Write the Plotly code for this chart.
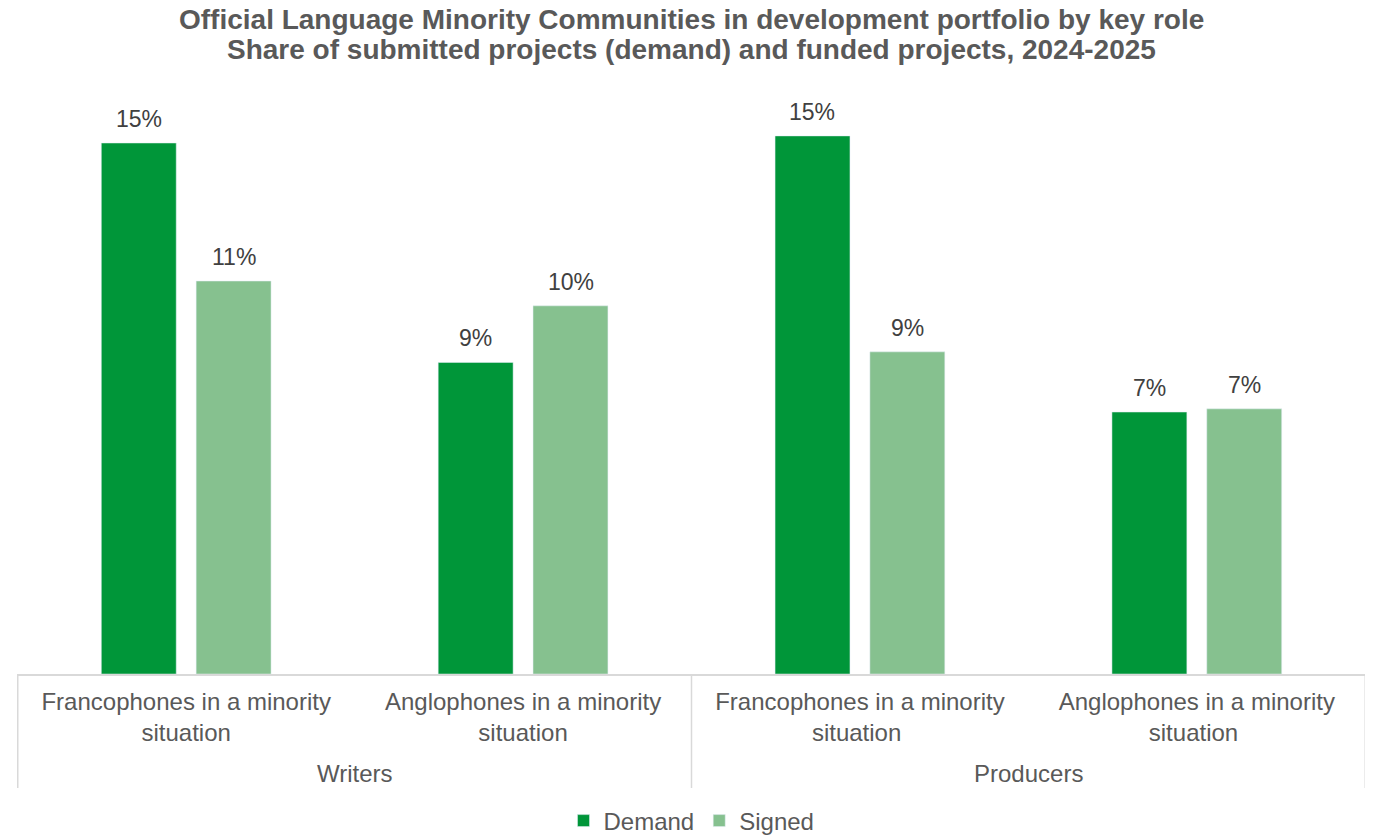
import plotly.graph_objects as go

categories = ["Francophones in a minority<br>situation", "Anglophones in a minority<br>situation",
              "Francophones in a minority<br>situation ", "Anglophones in a minority<br>situation "]
groups = ["Writers", "Producers"]
demand = [15.0, 8.8, 15.2, 7.4]
signed = [11.1, 10.4, 9.1, 7.49]
title_lines = ["Official Language Minority Communities in development portfolio by key role",
               "Share of submitted projects (demand) and funded projects, 2024-2025"]

DARK = "#009639"
LIGHT = "#86c18f"
TEXT = "#595959"
LABEL = "#404040"
FONT = "Liberation Sans, Arial, sans-serif"

# page has an 8px body margin, so figure is sized to fit inside the window
W, H = 1365, 827
ML, MR, MT, MB = 9, 7, 87, 161
BARGAP, GROUPGAP = 0.437, 0.21
plot_w = W - ML - MR
plot_h = H - MT - MB
ymax = 15.0 * plot_h / 531

fig = go.Figure()
fig.add_trace(go.Bar(name="Demand", x=categories, y=demand, marker_color=DARK))
fig.add_trace(go.Bar(name="Signed", x=categories, y=signed, marker_color=LIGHT))

annotations = []
slot_px = (1 - BARGAP) * (plot_w / len(categories)) / 2
for series, sign in [(demand, -1), (signed, 1)]:
    for cat, v in zip(categories, series):
        annotations.append(dict(x=cat, y=v, xref="x", yref="y", text=f"{v:.0f}%",
                                showarrow=False, yanchor="middle", xshift=sign * slot_px / 2,
                                yshift=24, font=dict(size=23, color=LABEL, family=FONT)))

shapes = []
line_bottom = -(780 - (H - MB)) / plot_h
for xv in [-0.5, 1.5, 3.5]:
    shapes.append(dict(type="line", xref="x", yref="paper", x0=xv, x1=xv, y0=0, y1=line_bottom,
                       line=dict(color="#d9d9d9", width=1.5)))

for i, g in enumerate(groups):
    annotations.append(dict(x=0.5 + 2 * i, y=-(765 - (H - MB)) / plot_h, xref="x", yref="paper",
                            text=g, showarrow=False, yanchor="middle",
                            font=dict(size=24, color=TEXT, family=FONT)))

for j, (t, ypx) in enumerate(zip(title_lines, [12, 42])):
    annotations.append(dict(x=0.5, xref="paper", y=1 + (MT - ypx) / plot_h, yref="paper",
                            text=f"<b>{t}</b>", showarrow=False, yanchor="middle",
                            font=dict(size=28, color=TEXT, family=FONT)))

fig.update_layout(
    width=W, height=H,
    margin=dict(l=ML, r=MR, t=MT, b=MB, autoexpand=False),
    paper_bgcolor="white", plot_bgcolor="white",
    barmode="group", bargap=BARGAP, bargroupgap=GROUPGAP,
    xaxis=dict(type="category", showline=True, linecolor="#d9d9d9", linewidth=1.5,
               tickfont=dict(size=24, color=TEXT, family=FONT), ticks="",
               ticklabelstandoff=5, showgrid=False),
    yaxis=dict(range=[0, ymax], visible=False, showgrid=False),
    legend=dict(orientation="h", x=0.5, xanchor="center", y=-(813 - (H - MB)) / plot_h,
                yanchor="middle", font=dict(size=24, color=TEXT, family=FONT),
                traceorder="normal"),
    shapes=shapes, annotations=annotations,
    font=dict(family=FONT),
)

fig.write_html("out.html")
